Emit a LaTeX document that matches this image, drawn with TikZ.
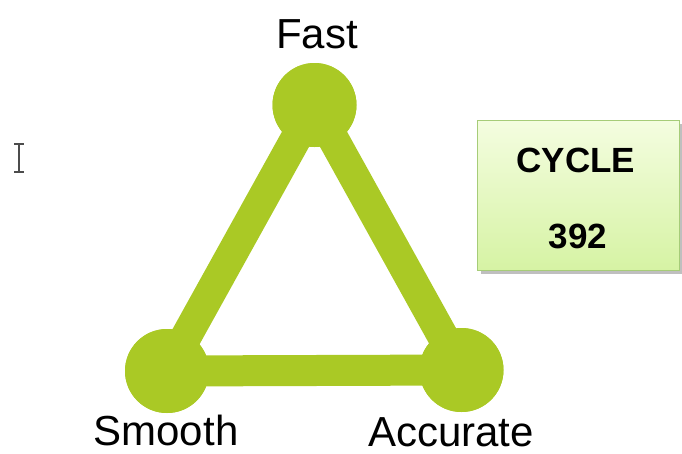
\documentclass[tikz,border=0pt]{standalone}
\usepackage{fontspec}
\setmainfont{Liberation Sans}
\usetikzlibrary{positioning}
\definecolor{leaf}{HTML}{AAC925}
\definecolor{boxtop}{HTML}{F4FDE0}
\definecolor{boxbot}{HTML}{D6F3A4}
\definecolor{boxline}{HTML}{A6CC78}
\tikzset {
  % the three corners of the triangle
  vertex/.style = {
    circle,
    fill = leaf,
    minimum size = 84pt,
    inner sep = 0
  },
  % thick bars between the corners
  bar/.style = {
    draw = leaf,
    line width = 31pt
  },
  % text under / above each corner
  vlabel/.style = {
    anchor = base,
    inner sep = 0,
    font = \fontsize{42}{50}\selectfont
  },
  % the note on the right
  cyclebox/.style = {
    rectangle,
    draw = boxline,
    top color = boxtop,
    bottom color = boxbot,
    minimum width = 202pt,
    minimum height = 150pt,
    inner sep = 0
  },
  boxtext/.style = {
    anchor = base,
    inner sep = 0,
    font = \bfseries\fontsize{35}{42}\selectfont
  }
}

\begin{document}
\begin{tikzpicture}[x=1pt, y=-1pt]
    \useasboundingbox (0,0) rectangle (682,453);

    \node[vertex] (fast) at (314.5,105) {};
    \node[vertex] (smooth) at (167,371) {};
    \node[vertex] (accurate) at (461.5,370) {};

    \draw[bar] (fast.center) -- (smooth.center) -- (accurate.center) -- cycle;
    \node[vertex] at (fast) {};
    \node[vertex] at (smooth) {};
    \node[vertex] at (accurate) {};

    \node[vlabel] (fast-label) at (317,48) {Fast};
    \node[vlabel] (smooth-label) at (166,445) {Smooth};
    \node[vlabel] (accurate-label) at (451,446) {Accurate};

    % box with its shadow
    \fill[black!25] (481,124) rectangle (682,274);
    \node[cyclebox] (cycle) at (578,195) {};
    \node[boxtext] (cycle-name) at (576,172) {CYCLE};
    \node[boxtext] (cycle-num) at (578,248) {392};

    % text cursor
    \draw[black!70, line width = 1.4pt]
      (19,144) -- (19,172)
      (14,144) -- (24,144)
      (14,172) -- (24,172);
  \end{tikzpicture}
\end{document}
